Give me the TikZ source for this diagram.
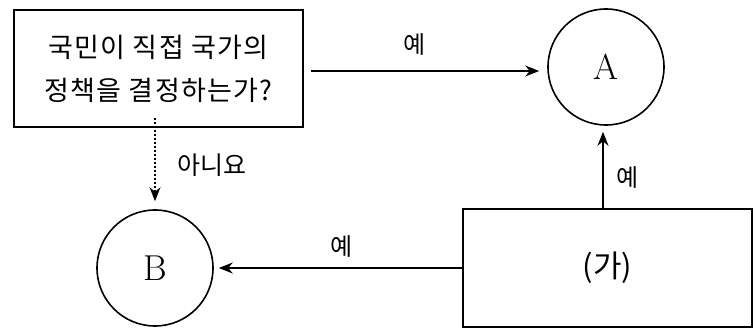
\documentclass[tikz,border=0pt]{standalone}
\usepackage{fontspec}
\newfontfamily\kr{Noto Sans CJK KR}
\newfontfamily\krs{Noto Sans CJK KR}[LetterSpace=5]
\usetikzlibrary{arrows.meta}
\begin{document}
\begin{tikzpicture}[x=1pt,y=-1pt,
  boxstyle/.style={draw, line width=2pt, rectangle, inner sep=0pt},
  circstyle/.style={draw, line width=1.6pt, circle, inner sep=0pt, minimum size=116pt, font=\fontsize{36}{38}\selectfont},
  arr/.style={line width=1.8pt, -{Stealth[length=14pt,width=11pt]}},
  lbl/.style={font=\kr\fontsize{24}{26}\selectfont, inner sep=0pt}]
\useasboundingbox (0,0) rectangle (756,328);
\node[boxstyle, minimum width=289pt, minimum height=117pt, align=center,
      font=\krs\fontsize{27}{43}\selectfont] (q) at (158.5,68.5)
  {국민이 직접 국가의\\정책을 결정하는가?};
\node[circstyle] (A) at (606,67) {A};
\node[circstyle] (B) at (155,268) {B};
\node[boxstyle, minimum width=289pt, minimum height=118pt,
      font=\kr\fontsize{31}{33}\selectfont] (g) at (607.5,268) {(가)};
\draw[arr] ([xshift=7pt]q.east |- 0,71) coordinate (s1) -- (s1 -| A.west) [shorten >=8pt];
\draw[arr, shorten >=6pt] (g.north -| 603,0) coordinate (s2) -- (s2 |- A.south);
\draw[arr, shorten >=5pt] (g.west) -- (B.east);
\draw[arr, dash pattern=on 2pt off 2pt, shorten >=8pt] ([yshift=10pt]q.south -| 155,0) coordinate (s3) -- (s3 |- B.north);
\node[lbl] (y1) at (415,45) {예};
\node[lbl] (y2) at (628,178) {예};
\node[lbl] (y3) at (342,247) {예};
\node[lbl, font=\kr\fontsize{25}{27}\selectfont] (n1) at (212,165) {아니요};
\end{tikzpicture}
\end{document}
